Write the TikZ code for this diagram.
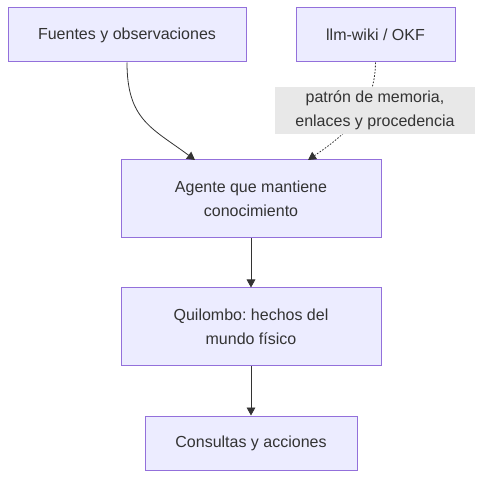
\documentclass[tikz,border=0pt]{standalone}
\usepackage{fontspec}
\setmainfont{Liberation Sans}
\usetikzlibrary{arrows.meta}
\definecolor{boxfill}{HTML}{ECECFF}
\definecolor{boxdraw}{HTML}{9370DB}
\definecolor{txt}{HTML}{333333}
\definecolor{lblbg}{HTML}{E8E8E8}
\tikzset{
  box/.style={draw=boxdraw, fill=boxfill, line width=0.75pt, text=txt, align=center,
    inner sep=0pt, font=\fontsize{12}{18}\selectfont\frenchspacing},
  lbl/.style={fill=lblbg, text=txt, align=center, inner sep=0pt,
    font=\fontsize{12}{18}\selectfont\frenchspacing},
  conn/.style={draw=txt, line width=0.6pt, -{Triangle[length=6pt,width=6.5pt]}},
}
\begin{document}
\begin{tikzpicture}[x=0.75pt,y=-0.75pt]
\useasboundingbox (0,0) rectangle (483,478);
\node[box, minimum width=238*0.75pt, minimum height=54*0.75pt] (A) at (127,35) {Fuentes y observaciones};
\node[box, minimum width=159*0.75pt, minimum height=54*0.75pt] (B) at (375.5,35) {llm-wiki / OKF};
\node[box, minimum width=260*0.75pt, minimum height=78*0.75pt] (C) at (251,199) {Agente que mantiene\\conocimiento};
\node[box, minimum width=260*0.75pt, minimum height=78*0.75pt] (D) at (251,327) {Quilombo: hechos del\\mundo físico};
\node[box, minimum width=212*0.75pt, minimum height=54*0.75pt] (E) at (251,443) {Consultas y acciones};
\coordinate (Cl) at (195,160);
\coordinate (Cr) at (308,160);
\draw[conn] (A.south) .. controls (127,120) and (152,128) .. (Cl);
\draw[conn, dash pattern=on 1.2pt off 1.2pt] (B.south) .. controls (375,110) and (345,135) .. (Cr);
\node[lbl, minimum width=200*0.75pt, minimum height=47*0.75pt] (L) at (375,110.5) {patrón de memoria,\\enlaces y procedencia};
\draw[conn] (C.south) -- (D.north);
\draw[conn] (D.south) -- (E.north);
\end{tikzpicture}
\end{document}
